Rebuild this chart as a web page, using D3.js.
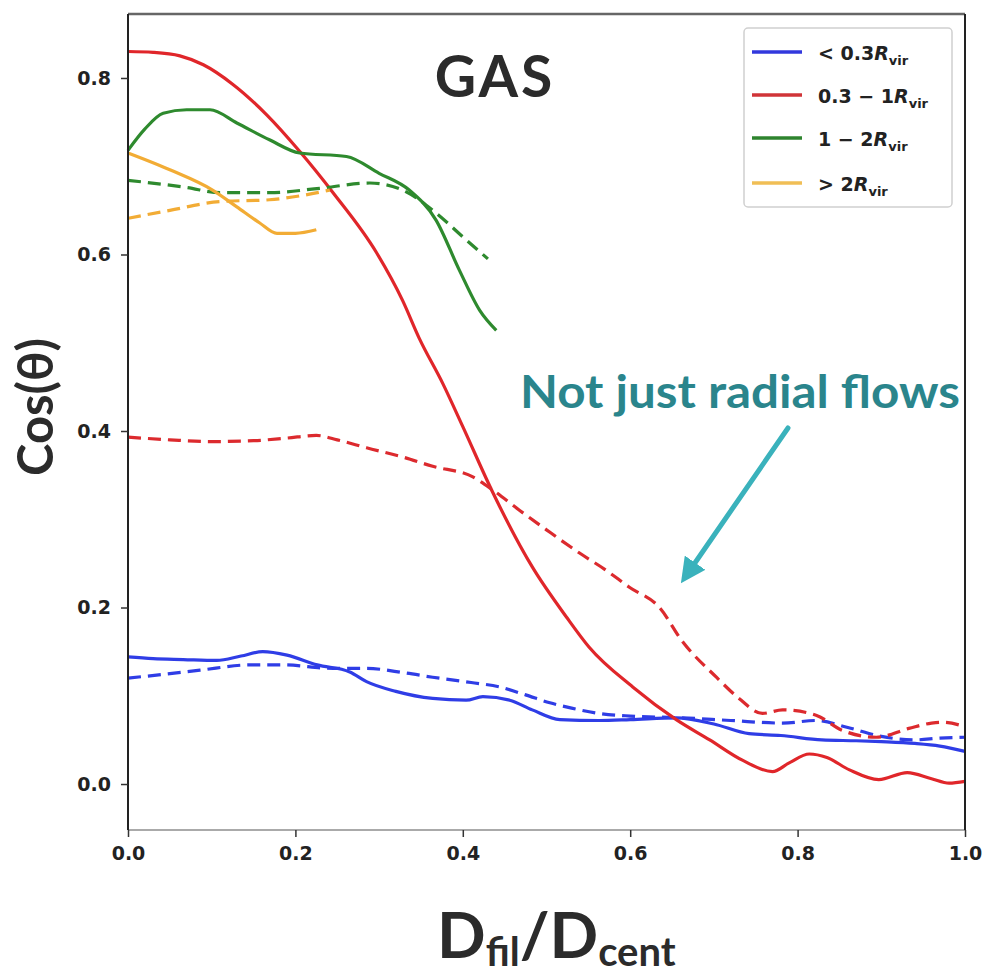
<!DOCTYPE html>
<html><head><meta charset="utf-8">
<script src="https://cdn.jsdelivr.net/npm/d3@7"></script>
<style>body{margin:0;background:#fff}</style></head>
<body><svg id="c" width="989" height="978"></svg>
<script>
// ---- data ----
const xTicks = [0, 0.2, 0.4, 0.6, 0.8, 1.0];
const yTicks = [0, 0.2, 0.4, 0.6, 0.8];
const legendLabels = ["< 0.3", "0.3 \u2212 1", "1 \u2212 2", "> 2"];

const blueSolidX = [0,0.03,0.066,0.106,0.135,0.161,0.19,0.226,0.265,0.285,0.32,0.364,0.404,0.424,0.456,0.483,0.516,0.563,0.6,0.655,0.7,0.742,0.78,0.829,0.87,0.9,0.94,0.97,1.0];
const blueSolidY = [0.144,0.142,0.141,0.140,0.145,0.150,0.146,0.135,0.127,0.116,0.105,0.097,0.095,0.099,0.095,0.084,0.073,0.072,0.073,0.075,0.068,0.057,0.055,0.050,0.049,0.048,0.046,0.043,0.037];
const blueDashX = [0,0.04,0.086,0.146,0.185,0.245,0.285,0.33,0.364,0.41,0.444,0.475,0.504,0.53,0.563,0.6,0.662,0.72,0.782,0.822,0.86,0.9,0.94,0.97,1.0];
const blueDashY = [0.120,0.124,0.129,0.135,0.135,0.131,0.131,0.126,0.121,0.115,0.110,0.101,0.092,0.086,0.080,0.077,0.075,0.072,0.069,0.072,0.064,0.054,0.050,0.052,0.053];

const redSolidX = [0,0.03,0.062,0.09,0.125,0.166,0.205,0.245,0.297,0.328,0.348,0.376,0.4,0.436,0.483,0.524,0.551,0.603,0.655,0.695,0.734,0.77,0.79,0.814,0.835,0.862,0.897,0.931,0.96,0.981,1.0];
const redSolidY = [0.830,0.829,0.825,0.815,0.793,0.758,0.717,0.670,0.602,0.548,0.505,0.454,0.405,0.330,0.246,0.189,0.155,0.110,0.073,0.050,0.027,0.014,0.024,0.034,0.030,0.016,0.005,0.013,0.006,0.001,0.003];
const redDashX = [0,0.05,0.1,0.15,0.19,0.225,0.25,0.285,0.33,0.364,0.412,0.436,0.468,0.5,0.539,0.57,0.599,0.635,0.662,0.703,0.73,0.758,0.782,0.822,0.853,0.894,0.933,0.96,0.973,1.0];
const redDashY = [0.393,0.390,0.388,0.389,0.392,0.395,0.390,0.381,0.370,0.360,0.348,0.333,0.310,0.288,0.262,0.243,0.223,0.200,0.162,0.121,0.097,0.080,0.084,0.078,0.061,0.053,0.063,0.069,0.070,0.065];

const greenSolidX = [0,0.02,0.042,0.07,0.098,0.13,0.169,0.205,0.261,0.30,0.336,0.368,0.396,0.42,0.44];
const greenSolidY = [0.718,0.742,0.760,0.764,0.764,0.749,0.730,0.715,0.711,0.692,0.673,0.639,0.582,0.537,0.514];
const greenDashX = [0,0.07,0.11,0.169,0.229,0.289,0.328,0.368,0.40,0.43];
const greenDashY = [0.684,0.676,0.670,0.670,0.675,0.681,0.673,0.647,0.620,0.595];

const yellowSolidX = [0,0.05,0.101,0.13,0.157,0.178,0.20,0.225];
const yellowSolidY = [0.715,0.696,0.673,0.654,0.636,0.624,0.624,0.628];
const yellowDashX = [0,0.05,0.11,0.169,0.209,0.241];
const yellowDashY = [0.641,0.650,0.660,0.662,0.667,0.673];

const series = [
  {x: blueSolidX, y: blueSolidY, c: "#2f3de6", dash: false},
  {x: blueDashX, y: blueDashY, c: "#2f3de6", dash: true},
  {x: redSolidX, y: redSolidY, c: "#e0262a", dash: false},
  {x: redDashX, y: redDashY, c: "#dc2a2e", dash: true},
  {x: greenDashX, y: greenDashY, c: "#2e8a2e", dash: true},
  {x: greenSolidX, y: greenSolidY, c: "#2e8a2e", dash: false},
  {x: yellowDashX, y: yellowDashY, c: "#f2ac35", dash: true},
  {x: yellowSolidX, y: yellowSolidY, c: "#f2ac35", dash: false}
];
const legendColors = ["#3238dd", "#d03438", "#2e842e", "#f0be55"];

// ---- chart ----
const svg = d3.select("#c");
const L = 128, R = 965, T = 14, B = 830;
const x = d3.scaleLinear().domain([0, 1]).range([L, R]);
const y = d3.scaleLinear().domain([-0.0521, 0.8725]).range([B, T]);

const line = d3.line().x(d => x(d[0])).y(d => y(d[1])).curve(d3.curveMonotoneX);
series.forEach(s => {
  const pts = s.x.map((v, i) => [v, s.y[i]]);
  svg.append("path").attr("d", line(pts)).attr("fill", "none")
    .attr("stroke", s.c).attr("stroke-width", 3.2)
    .attr("stroke-dasharray", s.dash ? "13,7" : null)
    .attr("stroke-linejoin", "round");
});

// spines
svg.append("line").attr("x1", L).attr("x2", R).attr("y1", T).attr("y2", T).attr("stroke", "#666").attr("stroke-width", 2.5);
svg.append("line").attr("x1", L).attr("x2", R).attr("y1", B).attr("y2", B).attr("stroke", "#aaa").attr("stroke-width", 2);
svg.append("line").attr("x1", L).attr("x2", L).attr("y1", T).attr("y2", B).attr("stroke", "#222").attr("stroke-width", 2);
svg.append("line").attr("x1", R).attr("x2", R).attr("y1", T).attr("y2", B).attr("stroke", "#222").attr("stroke-width", 2);

const fmt = d3.format(".1f");
const ax = svg.append("g").attr("transform", `translate(0,${B})`)
  .call(d3.axisBottom(x).tickValues(xTicks).tickFormat(fmt).tickSize(7).tickPadding(10));
const ay = svg.append("g").attr("transform", `translate(${L},0)`)
  .call(d3.axisLeft(y).tickValues(yTicks).tickFormat(fmt).tickSize(7).tickPadding(10));
[ax, ay].forEach(g => {
  g.select(".domain").remove();
  g.selectAll(".tick line").attr("stroke", "#333").attr("stroke-width", 1.5);
  g.selectAll(".tick text").attr("font-family", "DejaVu Sans").attr("font-weight", "bold")
    .attr("font-size", 19).attr("fill", "#222");
});

// legend
const lg = svg.append("g");
lg.append("rect").attr("x", 744).attr("y", 28).attr("width", 208).attr("height", 179)
  .attr("rx", 4).attr("fill", "#fff").attr("stroke", "#d0d0d0").attr("stroke-width", 1.5);
const rowY = [52, 95, 138, 183];
legendLabels.forEach((lab, i) => {
  lg.append("line").attr("x1", 752).attr("x2", 802).attr("y1", rowY[i]).attr("y2", rowY[i])
    .attr("stroke", legendColors[i]).attr("stroke-width", 3.5);
  const t = lg.append("text").attr("x", 818).attr("y", rowY[i] + 8)
    .attr("font-family", "DejaVu Sans").attr("font-weight", "bold").attr("font-size", 19).attr("fill", "#222");
  t.append("tspan").text(lab);
  t.append("tspan").attr("font-style", "italic").text("R");
  t.append("tspan").attr("font-size", 13).attr("dy", 5).text("vir");
});

// title
svg.append("text").attr("x", 495).attr("y", 97).attr("text-anchor", "middle")
  .attr("font-family", "Lato").attr("font-weight", "bold").attr("font-size", 57)
  .attr("letter-spacing", 3).attr("fill", "#2b2b2b").text("GAS");

// annotation
svg.append("text").attr("x", 520).attr("y", 408)
  .attr("font-family", "Lato").attr("font-weight", "bold").attr("font-size", 45)
  .attr("textLength", 440).attr("lengthAdjust", "spacingAndGlyphs")
  .attr("fill", "#2a858c").text("Not just radial flows");
svg.append("defs").append("marker").attr("id", "ah").attr("viewBox", "0 0 10 10")
  .attr("refX", 5).attr("refY", 5).attr("markerWidth", 5).attr("markerHeight", 5)
  .attr("orient", "auto").attr("markerUnits", "strokeWidth")
  .append("path").attr("d", "M0,0 L10,5 L0,10 Z").attr("fill", "#3ab2bc");
svg.append("line").attr("x1", 788).attr("y1", 428).attr("x2", 688).attr("y2", 573)
  .attr("stroke", "#3ab2bc").attr("stroke-width", 5).attr("stroke-linecap", "round")
  .attr("marker-end", "url(#ah)");

// axis labels
svg.append("text").attr("transform", "translate(53,407) rotate(-90)").attr("text-anchor", "middle")
  .attr("font-family", "Lato").attr("font-weight", "bold").attr("font-size", 49)
  .attr("fill", "#2b2b2b").text("Cos(\u03b8)");
const xl = svg.append("text").attr("x", 437).attr("y", 958)
  .attr("font-family", "Lato").attr("font-weight", "bold").attr("font-size", 64).attr("fill", "#2b2b2b");
xl.append("tspan").text("D");
xl.append("tspan").attr("font-size", 40).attr("dy", 8).text("fil");
xl.append("tspan").attr("dy", -8).text("/D");
xl.append("tspan").attr("font-size", 40).attr("dy", 8).text("cent");
</script></body></html>
